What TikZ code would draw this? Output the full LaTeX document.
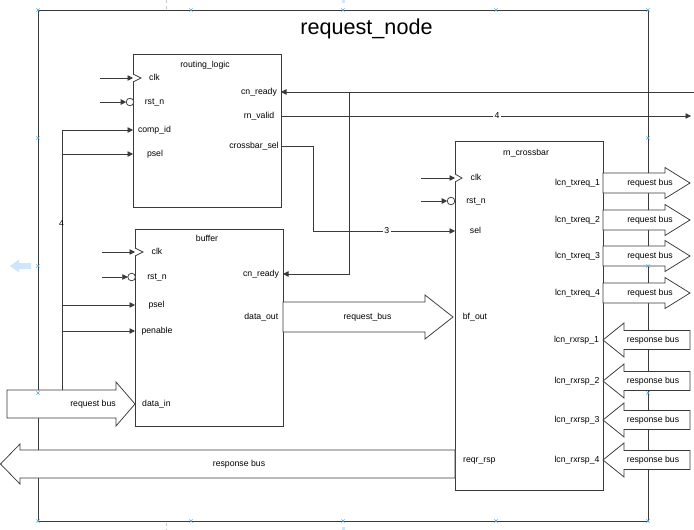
\documentclass[tikz,border=0pt]{standalone}
\usepackage{fontspec}
\setmainfont{Liberation Sans}
\usetikzlibrary{arrows.meta}
\definecolor{ln}{HTML}{3A3A3A}
\definecolor{hbl}{HTML}{4FA8E0}
\definecolor{pbl}{HTML}{CFE6FA}
\tikzset{
  wire/.style={draw=ln, line width=0.75pt},
  sig/.style={wire, -{Triangle[length=5.5pt,width=5.5pt]}},
  blk/.style={draw=ln, line width=0.75pt, fill=white, inner sep=0pt, anchor=north west},
  bus/.style={draw=ln, line width=0.75pt, fill=white, line join=miter},
  lbl/.style={inner sep=0pt, text=black, text height=6.3pt, text depth=1.8pt},
  wlbl/.style={lbl, fill=white, inner xsep=1.5pt},
  handle/.style={draw=hbl, line width=0.6pt},
}
\begin{document}
\begin{tikzpicture}[x=1pt,y=-1pt,font=\fontsize{8.7}{10}\selectfont]
\useasboundingbox (0,0) rectangle (694,530);
% editor guides
\draw[gray!45, dashed, line width=0.5pt] (166,0) -- (166,9);
\draw[gray!45, dashed, line width=0.5pt] (166,523) -- (166,530);
\fill[pbl] (341.5,0) rectangle (345,3);
\fill[pbl] (341.5,527) rectangle (345,530);
\fill[pbl] (10,266) -- (19,259.5) -- (19,263) -- (31,263) -- (31,269) -- (19,269) -- (19,272.5) -- cycle;

% outer container
\node[blk, minimum width=610pt, minimum height=511pt] (outer) at (38,10) {};
\node[inner sep=0pt, font=\fontsize{21.6}{24}\selectfont, text height=15.5pt, text depth=4.5pt] (title) at (366.5,29) {request\_node};

% blocks
\node[blk, minimum width=148pt, minimum height=153pt] (rl) at (133,54) {};
\node[blk, minimum width=148pt, minimum height=197pt] (bf) at (135,229) {};
\node[blk, minimum width=148pt, minimum height=349pt] (cb) at (455,141) {};
\node[lbl] (rlT) at (205,65) {routing\_logic};
\node[lbl] (bfT) at (207,239) {buffer};
\node[lbl] (cbT) at (526,153) {rn\_crossbar};

% routing_logic ports
\node[lbl] (rlclkL) at (154.5,78) {clk};
\node[lbl] (rlrstL) at (154.5,102) {rst\_n};
\node[lbl] (rlcidL) at (154.5,130) {comp\_id};
\node[lbl] (rlpselL) at (155,154) {psel};
\node[lbl] (rlcnrL) at (259,92) {cn\_ready};
\node[lbl] (rlvalL) at (259,116) {rn\_valid};
\node[lbl] (rlselL) at (254,146) {crossbar\_sel};

% buffer ports
\node[lbl] (bfclkL) at (157,252) {clk};
\node[lbl] (bfrstL) at (157,277) {rst\_n};
\node[lbl] (bfpselL) at (156.5,305) {psel};
\node[lbl] (bfpenL) at (157,331) {penable};
\node[lbl] (bfdinL) at (156.5,404) {data\_in};
\node[lbl] (bfcnrL) at (261,274) {cn\_ready};
\node[lbl] (bfdoutL) at (261.3,317) {data\_out};

% crossbar ports
\node[lbl] (cbclkL) at (476,178) {clk};
\node[lbl] (cbrstL) at (476,201) {rst\_n};
\node[lbl] (cbselL) at (475.5,231) {sel};
\node[lbl] (cbbfL) at (475,317) {bf\_out};
\node[lbl] (cbrspL) at (479.3,460) {reqr\_rsp};
\node[lbl] (tq1) at (577.5,183) {lcn\_txreq\_1};
\node[lbl] (tq2) at (577.5,220) {lcn\_txreq\_2};
\node[lbl] (tq3) at (577.5,256) {lcn\_txreq\_3};
\node[lbl] (tq4) at (577.5,293) {lcn\_txreq\_4};
\node[lbl] (rs1) at (576.5,340) {lcn\_rxrsp\_1};
\node[lbl] (rs2) at (577,381) {lcn\_rxrsp\_2};
\node[lbl] (rs3) at (577,420) {lcn\_rxrsp\_3};
\node[lbl] (rs4) at (577,460) {lcn\_rxrsp\_4};

% port coordinates
\coordinate (rlclk) at (133,78);   \coordinate (rlclkS) at (100,78);
\coordinate (rlrst) at (126.2,102); \coordinate (rlrstS) at (100,102);
\coordinate (rlcid) at (133,130);  \coordinate (rlpsel) at (133,154);
\coordinate (rlcnr) at (281,92);   \coordinate (rlval) at (281,116);
\coordinate (rlsel) at (281,146);
\coordinate (bfclk) at (135,252);  \coordinate (bfclkS) at (102,252);
\coordinate (bfrst) at (127.8,277); \coordinate (bfrstS) at (102,277);
\coordinate (bfpsel) at (135,305); \coordinate (bfpen) at (135,331);
\coordinate (bfcnr) at (283,274);
\coordinate (cbclk) at (455,178);  \coordinate (cbclkS) at (421,178);
\coordinate (cbrst) at (447.2,201); \coordinate (cbrstS) at (421,201);
\coordinate (cbsel) at (455,231);
\coordinate (busTop) at (62,130);  \coordinate (busBot) at (62,390);
\coordinate (cnrIn) at (694,92);   \coordinate (cnrJ) at (349,92);
\coordinate (valOut) at (691,116);
\coordinate (selA) at (313,146);

% clock / reset inputs
\draw[sig] (rlclkS) -- (rlclk);
\draw[wire, fill=white] (133,74) -- (141,78) -- (133,82);
\draw[sig] (rlrstS) -- (rlrst);
\draw[wire, fill=white] (130,102) circle (3.8pt);
\draw[sig] (bfclkS) -- (bfclk);
\draw[wire, fill=white] (135,248) -- (143,252) -- (135,256);
\draw[sig] (bfrstS) -- (bfrst);
\draw[wire, fill=white] (131.6,277) circle (3.8pt);
\draw[sig] (cbclkS) -- (cbclk);
\draw[wire, fill=white] (455,174) -- (462,178) -- (455,182);
\draw[sig] (cbrstS) -- (cbrst);
\draw[wire, fill=white] (451,201) circle (3.8pt);

% left control bus
\draw[wire] (busTop) -- (busBot);
\draw[sig] (busTop) -- (rlcid);
\draw[sig] (62,154) -- (rlpsel);
\draw[sig] (62,305) -- (bfpsel);
\draw[sig] (62,331) -- (bfpen);
\node[lbl] (bus4) at (61.5,224) {4};

% cn_ready feed
\draw[sig] (cnrIn) -- (rlcnr);
\draw[sig] (cnrJ) |- (bfcnr);
% rn_valid
\draw[sig] (rlval) -- node[wlbl, pos=0.527] (v4) {4} (valOut);
% crossbar_sel
\draw[sig] (rlsel) -- (selA) |- node[wlbl, pos=0.76] (s3) {3} (cbsel);

% bus arrows
\draw[bus] (7,390) -- (116,390) -- (116,382) -- (135,404) -- (116,426) -- (116,418) -- (7,418) -- cycle;
\node[lbl] (rqin) at (93,404) {request bus};
\draw[bus] (283,302) -- (425,302) -- (425,295) -- (453,317) -- (425,339) -- (425,332) -- (283,332) -- cycle;
\node[lbl] (rqmid) at (367.5,317) {request\_bus};
\draw[bus] (0.5,464) -- (20,444) -- (20,450) -- (455,450) -- (455,478) -- (20,478) -- (20,484) -- cycle;
\node[lbl] (rspout) at (239,464) {response bus};

\foreach \c/\n in {183/1,220/2,256/3,293/4} {
  \draw[bus] (603,\c-10) -- (665,\c-10) -- (665,\c-15.5) -- (690,\c) -- (665,\c+15.5) -- (665,\c+10) -- (603,\c+10) -- cycle;
  \node[lbl] (tb\n) at (650,\c) {request bus};
}
\foreach \c/\n in {340/1,381/2,420/3,460/4} {
  \draw[bus] (603,\c) -- (624,\c-17) -- (624,\c-9.5) -- (690,\c-9.5) -- (690,\c+9.5) -- (624,\c+9.5) -- (624,\c+17) -- cycle;
  \node[lbl] (rb\n) at (653,\c) {response bus};
}

% connection handles
\foreach \p in {(38,10),(191,10),(343,10),(496,10),(648,10),
                (38,521),(191,521),(343,521),(496,521),(648,521),
                (38,138),(38,266),(38,393),(648,138),(648,266),(648,393)} {
  \draw[handle] \p ++(-1.6,-1.6) -- ++(3.2,3.2) \p ++(-1.6,1.6) -- ++(3.2,-3.2);
}
\end{tikzpicture}
\end{document}
